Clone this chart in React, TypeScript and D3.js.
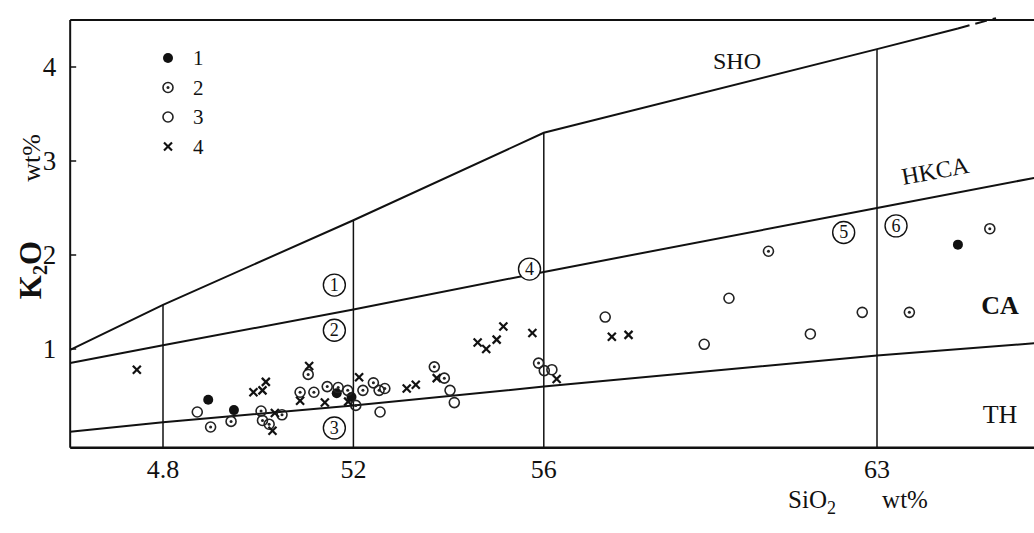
import React from "react";
import * as d3 from "d3";

// Boundary lines [SiO2, K2O]
const shoLine: [number, number][] = [[46.05, 0.99], [48, 1.47], [52, 2.37], [56, 3.3], [63, 4.19], [64.7, 4.41]];
const shoDashed: [number, number][] = [[64.7, 4.41], [65.5, 4.52]];
const hkcaLine: [number, number][] = [[46.05, 0.85], [48, 1.04], [52, 1.42], [56, 1.82], [63, 2.5], [66.3, 2.82]];
const thLine: [number, number][] = [[46.05, 0.12], [48, 0.22], [52, 0.4], [56, 0.6], [63, 0.93], [66.3, 1.06]];
const dividers: number[] = [48, 52, 56, 63];

// Samples: [SiO2, K2O]
const group1: [number, number][] = [[48.95, 0.46], [49.49, 0.35], [51.65, 0.53], [51.96, 0.49], [64.7, 2.11]];
const group2: [number, number][] = [
  [49.0, 0.17], [49.43, 0.23], [50.06, 0.34], [50.09, 0.24], [50.23, 0.2], [50.5, 0.3],
  [51.05, 0.73], [50.88, 0.54], [51.17, 0.54], [51.45, 0.6], [51.68, 0.59], [51.88, 0.56],
  [52.05, 0.4], [52.2, 0.56], [52.42, 0.64], [52.54, 0.56], [52.66, 0.58], [53.7, 0.81],
  [53.91, 0.69], [55.89, 0.85], [60.72, 2.04], [63.68, 1.39], [65.37, 2.28],
];
const group3: [number, number][] = [
  [48.72, 0.33], [52.56, 0.33], [54.03, 0.56], [54.12, 0.43], [56.01, 0.77], [56.17, 0.78],
  [57.29, 1.34], [59.89, 1.54], [59.37, 1.05], [61.6, 1.16], [62.69, 1.39],
];
const group4: [number, number][] = [
  [47.45, 0.78], [49.9, 0.54], [50.09, 0.56], [50.16, 0.65], [50.3, 0.13], [50.35, 0.32],
  [51.07, 0.82], [50.88, 0.45], [51.4, 0.43], [51.89, 0.44], [52.12, 0.7], [53.12, 0.58],
  [53.31, 0.62], [53.75, 0.69], [54.61, 1.07], [54.79, 1.0], [55.01, 1.1], [55.15, 1.24],
  [55.76, 1.17], [56.27, 0.68], [57.43, 1.13], [57.78, 1.15],
];

const xTicks: number[] = [48, 52, 56, 63];
const xTickLabels: string[] = ["4.8", "52", "56", "63"];
const yTicks: number[] = [1, 2, 3, 4];
const legendLabels: string[] = ["1", "2", "3", "4"];

// Field labels [SiO2, K2O, number]
const fieldLabels: [number, number, string][] = [[51.6, 1.68, "1"], [51.6, 1.2, "2"], [51.6, 0.16, "3"], [55.7, 1.85, "4"], [62.3, 2.24, "5"], [63.4, 2.31, "6"]];

const FONT = "'Liberation Serif', 'DejaVu Serif', serif";

export default function App() {
  const W = 1034, H = 533;
  const x = d3.scaleLinear().domain([48, 63]).range([163, 877]);
  const y = d3.scaleLinear().domain([0, 4]).range([443, 67]);
  const line = d3.line<[number, number]>().x(d => x(d[0])).y(d => y(d[1]));
  const xMin = 46.05, xMax = 66.3, yMin = -0.05, yMax = 4.5;
  const left = x(xMin), bottom = y(yMin), top = y(yMax), right = x(xMax);
  const topOfDivider = (s: number) => shoLine.find(d => d[0] === s)![1];

  const marker = (t: number, cx: number, cy: number, key: string) => {
    if (t === 1) return <circle key={key} cx={cx} cy={cy} r={5} fill="#111" />;
    if (t === 2)
      return (
        <g key={key}>
          <circle cx={cx} cy={cy} r={5} fill="none" stroke="#222" strokeWidth={1.6} />
          <circle cx={cx} cy={cy} r={1.5} fill="#222" />
        </g>
      );
    if (t === 3) return <circle key={key} cx={cx} cy={cy} r={5} fill="none" stroke="#222" strokeWidth={1.6} />;
    return (
      <g key={key} stroke="#111" strokeWidth={2.2}>
        <line x1={cx - 4} y1={cy - 4} x2={cx + 4} y2={cy + 4} />
        <line x1={cx - 4} y1={cy + 4} x2={cx + 4} y2={cy - 4} />
      </g>
    );
  };

  const groups = [group1, group2, group3, group4];

  return (
    <svg width={W} height={H} style={{ position: "absolute", left: 0, top: 0, background: "#fff" }} fontFamily={FONT}>
      <rect width={W} height={H} fill="#fff" />
      {/* frame */}
      <line x1={left} y1={top} x2={left} y2={bottom} stroke="#111" strokeWidth={2} />
      <line x1={left} y1={top} x2={right} y2={top} stroke="#111" strokeWidth={2} />
      <line x1={left} y1={bottom} x2={right} y2={bottom} stroke="#111" strokeWidth={2.5} />
      {/* y ticks */}
      {yTicks.map(t => (
        <g key={"yt" + t}>
          <line x1={left} x2={left + 6} y1={y(t)} y2={y(t)} stroke="#111" strokeWidth={1.5} />
          <text x={left - 14} y={y(t) + 9} fontSize={27} textAnchor="end" fill="#111">{t}</text>
        </g>
      ))}
      {/* x tick labels */}
      {xTicks.map((t, i) => (
        <text key={"xt" + t} x={x(t)} y={bottom + 30} fontSize={26} textAnchor="middle" fill="#111">{xTickLabels[i]}</text>
      ))}
      {/* dividers */}
      {dividers.map(s => (
        <line key={"dv" + s} x1={x(s)} x2={x(s)} y1={bottom} y2={y(topOfDivider(s))} stroke="#111" strokeWidth={1.5} />
      ))}
      {/* boundaries */}
      <path d={line(shoLine)!} fill="none" stroke="#111" strokeWidth={2} />
      <path d={line(shoDashed)!} fill="none" stroke="#111" strokeWidth={2} strokeDasharray="12 6" />
      <path d={line(hkcaLine)!} fill="none" stroke="#111" strokeWidth={2} />
      <path d={line(thLine)!} fill="none" stroke="#111" strokeWidth={2} />
      {/* series labels */}
      <text x={737} y={69} fontSize={24} textAnchor="middle" fill="#111">SHO</text>
      <text x={935} y={179} fontSize={24} textAnchor="middle" fill="#111" transform="rotate(-10.5 935 170)">HKCA</text>
      <text x={1000} y={314} fontSize={26} textAnchor="middle" fill="#111" fontWeight="bold">CA</text>
      <text x={1000} y={423} fontSize={26} textAnchor="middle" fill="#111">TH</text>
      {/* circled field numbers */}
      {fieldLabels.map(([s, k, t]) => (
        <g key={"f" + t}>
          <circle cx={x(s)} cy={y(k)} r={11} fill="#fff" stroke="#111" strokeWidth={1.4} />
          <text x={x(s)} y={y(k) + 6} fontSize={18} textAnchor="middle" fill="#111">{t}</text>
        </g>
      ))}
      {/* points */}
      {groups.map((g, gi) => g.map((d, i) => marker(gi + 1, x(d[0]), y(d[1]), `p${gi}-${i}`)))}
      {/* legend */}
      {legendLabels.map((l, i) => (
        <g key={"lg" + i}>
          {marker(i + 1, 168, 58 + i * 29.5, "lm" + i)}
          <text x={193} y={58 + i * 29.5 + 7} fontSize={21} fill="#111">{l}</text>
        </g>
      ))}
      {/* axis titles */}
      <text transform="translate(41 270) rotate(-90)" fontSize={31} textAnchor="middle" fill="#111" fontWeight="bold">
        K<tspan fontSize={20} dy={6}>2</tspan><tspan dy={-6}>O</tspan>
      </text>
      <text transform="translate(40 158) rotate(-90)" fontSize={26} textAnchor="middle" fill="#111">wt%</text>
      <text x={812} y={508} fontSize={25} textAnchor="middle" fill="#111">
        SiO<tspan fontSize={18} dy={6}>2</tspan>
      </text>
      <text x={905} y={508} fontSize={25} textAnchor="middle" fill="#111">wt%</text>
    </svg>
  );
}
